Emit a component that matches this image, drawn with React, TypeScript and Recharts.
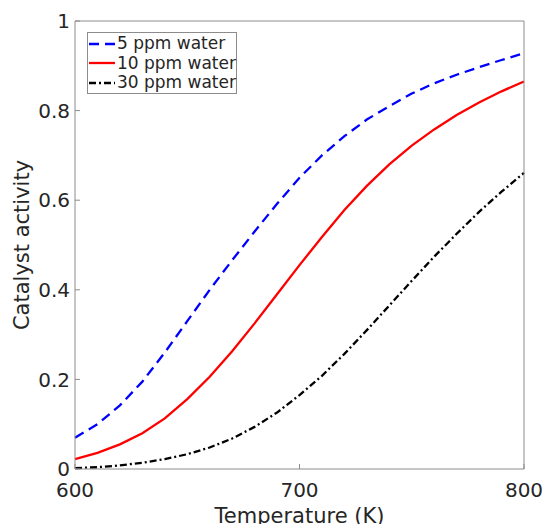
import React from 'react';
import { LineChart, Line, XAxis, YAxis, Legend } from 'recharts';

const temperatures = [600, 610, 620, 630, 640, 650, 660, 670, 680, 690, 700, 710, 720, 730, 740, 750, 760, 770, 780, 790, 800];
const water5 = [0.07, 0.1, 0.142, 0.195, 0.26, 0.33, 0.4, 0.466, 0.53, 0.592, 0.65, 0.7, 0.743, 0.78, 0.81, 0.838, 0.861, 0.88, 0.897, 0.913, 0.928];
const water10 = [0.022, 0.036, 0.055, 0.08, 0.113, 0.156, 0.206, 0.263, 0.325, 0.39, 0.455, 0.518, 0.578, 0.632, 0.68, 0.722, 0.758, 0.79, 0.818, 0.843, 0.865];
const water30 = [0.002, 0.004, 0.008, 0.014, 0.022, 0.033, 0.048, 0.068, 0.094, 0.126, 0.165, 0.208, 0.257, 0.31, 0.365, 0.42, 0.474, 0.525, 0.574, 0.619, 0.661];

const xTicks = [600, 700, 800];
const yTicks = [0, 0.2, 0.4, 0.6, 0.8, 1];

const seriesNames = ['5 ppm water', '10 ppm water', '30 ppm water'];

const data = temperatures.map((t, i) => ({
  t,
  w5: water5[i],
  w10: water10[i],
  w30: water30[i],
}));

const FONT = '"DejaVu Sans", sans-serif';
const AXIS = '#8c8c8c';
const TEXT = '#262626';

const series = [
  { key: 'w5', name: seriesNames[0], color: '#0000ff', dash: '10 6' },
  { key: 'w10', name: seriesNames[1], color: '#ff0000', dash: undefined },
  { key: 'w30', name: seriesNames[2], color: '#000000', dash: '7 3 2 3' },
];

function LegendBox() {
  return (
    <div
      style={{
        boxSizing: 'border-box',
        width: 150,
        height: 62,
        border: `1px solid ${AXIS}`,
        background: '#fff',
        paddingTop: 1,
        fontFamily: FONT,
        fontSize: 17,
        color: TEXT,
      }}
    >
      {series.map((s) => (
        <div key={s.key} style={{ display: 'flex', alignItems: 'center', height: 19.5, lineHeight: '19.5px' }}>
          <svg width={29} height={10} style={{ display: 'block' }}>
            <line x1={1} y1={5} x2={27} y2={5} stroke={s.color} strokeWidth={2.3} strokeDasharray={s.dash} />
          </svg>
          <span style={{ whiteSpace: 'nowrap' }}>{s.name}</span>
        </div>
      ))}
    </div>
  );
}

export default function App() {
  const tickStyle = { fill: TEXT, fontSize: 20, fontFamily: FONT };
  return (
    <div style={{ position: 'absolute', left: 0, top: 0, width: 544, height: 524, background: '#fff' }}>
      <LineChart width={544} height={524} data={data} margin={{ top: 0, right: 0, bottom: 0, left: 0 }}>
        <XAxis
          xAxisId="b"
          dataKey="t"
          type="number"
          domain={[600, 800]}
          ticks={xTicks}
          interval={0}
          height={55}
          stroke={AXIS}
          tickSize={-5}
          tickMargin={19}
          tick={tickStyle}
          label={{ value: 'Temperature (K)', position: 'insideBottom', offset: 1, fill: TEXT, fontSize: 21, fontFamily: FONT }}
        />
        <XAxis
          xAxisId="t"
          orientation="top"
          dataKey="t"
          type="number"
          domain={[600, 800]}
          ticks={xTicks}
          interval={0}
          height={21}
          stroke={AXIS}
          tickSize={-5}
          tick={false}
        />
        <YAxis
          yAxisId="l"
          type="number"
          domain={[0, 1]}
          ticks={yTicks}
          interval={0}
          width={75}
          stroke={AXIS}
          tickSize={-5}
          tickMargin={10}
          tick={tickStyle}
          label={{
            value: 'Catalyst activity',
            angle: -90,
            position: 'insideLeft',
            offset: 22,
            fill: TEXT,
            fontSize: 21,
            fontFamily: FONT,
            style: { textAnchor: 'middle' },
          }}
        />
        <YAxis
          yAxisId="r"
          orientation="right"
          type="number"
          domain={[0, 1]}
          ticks={yTicks}
          interval={0}
          width={20}
          stroke={AXIS}
          tickSize={-5}
          tick={false}
        />
        <Legend
          layout="vertical"
          align="center"
          verticalAlign="middle"
          content={() => <LegendBox />}
          wrapperStyle={{ left: 87, top: 32, width: 150 }}
        />
        {series.map((s) => (
          <Line
            key={s.key}
            xAxisId="b"
            yAxisId="l"
            dataKey={s.key}
            name={s.name}
            type="linear"
            stroke={s.color}
            strokeWidth={2.3}
            strokeDasharray={s.dash}
            dot={false}
            activeDot={false}
            isAnimationActive={false}
          />
        ))}
      </LineChart>
    </div>
  );
}
